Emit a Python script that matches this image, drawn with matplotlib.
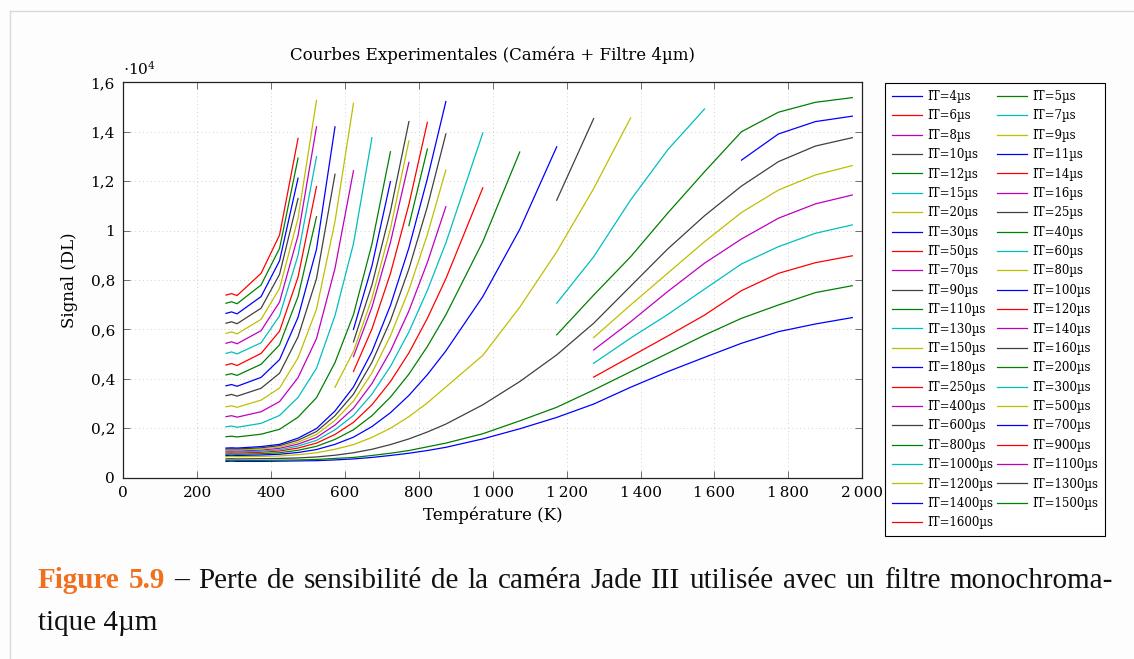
import numpy as np
import matplotlib
matplotlib.use("Agg")
import matplotlib.pyplot as plt
from matplotlib.ticker import FuncFormatter

# measurement temperatures (K)
temp_K = [278, 293, 308, 373, 423, 473, 523, 573, 623, 673, 723, 773, 823,
          873, 973, 1073, 1173, 1273, 1373, 1473, 1573, 1673, 1773, 1873, 1973]

# integration times (us), in legend order
it_us = [4, 5, 6, 7, 8, 9, 10, 11, 12, 14, 15, 16, 20, 25, 30, 40, 50, 60, 70,
         80, 90, 100, 110, 120, 130, 140, 150, 160, 180, 200, 250, 300, 400,
         500, 600, 700, 800, 900, 1000, 1100, 1200, 1300, 1400, 1500, 1600]

# signal in units of 1e4 DL, one value per temperature, None = not measured
sig_4 = [0.066, 0.067, 0.066, 0.066, 0.067, 0.068, 0.069, 0.072, 0.076, 0.082, 0.090, 0.099, 0.110,
         0.123, 0.157, 0.198, 0.244, 0.298, 0.366, 0.429, 0.487, 0.544, 0.591, 0.622, 0.648]
sig_5 = [0.070, 0.071, 0.070, 0.070, 0.071, 0.072, 0.074, 0.078, 0.082, 0.090, 0.099, 0.110, 0.125,
         0.140, 0.178, 0.230, 0.285, 0.355, 0.429, 0.503, 0.577, 0.645, 0.699, 0.749, 0.777]
sig_6 = [None] * 17 + [0.407, 0.490, 0.573, 0.658, 0.757, 0.827, 0.870, 0.898]
sig_7 = [None] * 17 + [0.463, 0.565, 0.660, 0.763, 0.865, 0.935, 0.989, 1.023]
sig_8 = [None] * 17 + [0.517, 0.631, 0.753, 0.868, 0.966, 1.050, 1.108, 1.144]
sig_9 = [None] * 17 + [0.567, 0.699, 0.827, 0.955, 1.073, 1.164, 1.225, 1.263]
sig_10 = [0.076, 0.077, 0.076, 0.077, 0.078, 0.080, 0.084, 0.091, 0.101, 0.115, 0.134, 0.157, 0.185,
          0.217, 0.295, 0.389, 0.497, 0.625, 0.775, 0.925, 1.060, 1.180, 1.279, 1.342, 1.376]
sig_11 = [None] * 21 + [1.285, 1.391, 1.441, 1.463]
sig_12 = [None] * 16 + [0.578, 0.739, 0.894, 1.070, 1.238, 1.400, 1.479, 1.519, 1.538]
sig_14 = [None] * 25
sig_15 = [None] * 16 + [0.706, 0.894, 1.124, 1.326, 1.492] + [None] * 4
sig_16 = [None] * 25
sig_20 = [0.085, 0.086, 0.085, 0.086, 0.088, 0.093, 0.101, 0.115, 0.134, 0.163, 0.200, 0.247, 0.303,
          0.367, 0.495, 0.690, 0.914, 1.170, 1.456] + [None] * 6
sig_25 = [None] * 16 + [1.123, 1.453] + [None] * 7
sig_30 = [0.090, 0.091, 0.090, 0.092, 0.095, 0.102, 0.114, 0.135, 0.164, 0.207, 0.263, 0.333, 0.417,
          0.513, 0.733, 1.005, 1.339] + [None] * 8
sig_40 = [0.095, 0.096, 0.095, 0.097, 0.101, 0.111, 0.127, 0.155, 0.194, 0.251, 0.326, 0.419, 0.531,
          0.659, 0.955, 1.318] + [None] * 9
sig_50 = [0.100, 0.101, 0.100, 0.103, 0.108, 0.120, 0.140, 0.175, 0.224, 0.295, 0.389, 0.505, 0.645,
          0.805, 1.173] + [None] * 10
sig_60 = [0.104, 0.105, 0.104, 0.107, 0.113, 0.128, 0.151, 0.194, 0.252, 0.338, 0.450, 0.590, 0.758,
          0.950, 1.395] + [None] * 10
sig_70 = [0.108, 0.109, 0.108, 0.112, 0.119, 0.136, 0.163, 0.213, 0.281, 0.381, 0.512, 0.675, 0.871,
          1.097] + [None] * 11
sig_80 = [0.112, 0.113, 0.112, 0.116, 0.124, 0.144, 0.175, 0.232, 0.310, 0.424, 0.574, 0.760, 0.984,
          1.245] + [None] * 11
sig_90 = [0.116, 0.117, 0.116, 0.121, 0.130, 0.152, 0.187, 0.251, 0.338, 0.467, 0.635, 0.845, 1.097,
          1.391] + [None] * 11
sig_100 = [0.120, 0.121, 0.120, 0.126, 0.135, 0.160, 0.199, 0.270, 0.367, 0.510, 0.697, 0.930, 1.210,
           1.522] + [None] * 11
sig_110 = [None] * 11 + [1.020, 1.330] + [None] * 12
sig_120 = [None] * 8 + [0.430, 0.602, 0.826, 1.106, 1.438] + [None] * 12
sig_130 = [None] * 25
sig_140 = [None] * 8 + [0.490, 0.690, 0.952, 1.276] + [None] * 13
sig_150 = [None] * 7 + [0.366, 0.511, 0.726, 1.007, 1.363] + [None] * 13
sig_160 = [None] * 8 + [0.550, 0.780, 1.078, 1.441] + [None] * 13
sig_180 = [None] * 8 + [0.600, 0.857, 1.198] + [None] * 14
sig_200 = [0.166, 0.168, 0.165, 0.176, 0.196, 0.245, 0.324, 0.466, 0.660, 0.946, 1.319] + [None] * 14
sig_250 = [None] * 25
sig_300 = [0.206, 0.209, 0.204, 0.220, 0.252, 0.325, 0.443, 0.656, 0.947, 1.376] + [None] * 15
sig_400 = [0.247, 0.251, 0.245, 0.267, 0.308, 0.405, 0.563, 0.847, 1.242] + [None] * 16
sig_500 = [0.287, 0.291, 0.285, 0.314, 0.363, 0.485, 0.682, 1.037, 1.515] + [None] * 16
sig_600 = [0.332, 0.337, 0.330, 0.362, 0.423, 0.570, 0.806, 1.228] + [None] * 17
sig_700 = [0.372, 0.377, 0.370, 0.406, 0.478, 0.649, 0.925, 1.420] + [None] * 17
sig_800 = [0.416, 0.421, 0.414, 0.459, 0.538, 0.733, 1.056] + [None] * 18
sig_900 = [0.456, 0.462, 0.454, 0.503, 0.593, 0.812, 1.178] + [None] * 18
sig_1000 = [0.503, 0.509, 0.501, 0.546, 0.655, 0.900, 1.299] + [None] * 18
sig_1100 = [0.544, 0.550, 0.542, 0.595, 0.711, 0.980, 1.420] + [None] * 18
sig_1200 = [0.584, 0.590, 0.582, 0.641, 0.766, 1.050, 1.527] + [None] * 18
sig_1300 = [0.625, 0.631, 0.623, 0.686, 0.823, 1.130] + [None] * 19
sig_1400 = [0.665, 0.671, 0.663, 0.733, 0.878, 1.212] + [None] * 19
sig_1500 = [0.706, 0.712, 0.704, 0.780, 0.928, 1.293] + [None] * 19
sig_1600 = [0.739, 0.745, 0.737, 0.827, 0.982, 1.373] + [None] * 19

signals = [sig_4, sig_5, sig_6, sig_7, sig_8, sig_9, sig_10, sig_11, sig_12, sig_14,
           sig_15, sig_16, sig_20, sig_25, sig_30, sig_40, sig_50, sig_60, sig_70,
           sig_80, sig_90, sig_100, sig_110, sig_120, sig_130, sig_140, sig_150,
           sig_160, sig_180, sig_200, sig_250, sig_300, sig_400, sig_500, sig_600,
           sig_700, sig_800, sig_900, sig_1000, sig_1100, sig_1200, sig_1300,
           sig_1400, sig_1500, sig_1600]

caption_line1 = 'Figure 5.9 – Perte de sensibilité de la caméra Jade III utilisée avec un filtre monochroma-'
caption_line2 = 'tique 4µm'

# old matlab colour order b g r c m y k
colors = ['#0000ff', '#008000', '#ff0000', '#00bfbf', '#bf00bf', '#bfbf00', '#404040']

plt.rcParams['font.family'] = ['DejaVu Serif']
plt.rcParams['mathtext.fontset'] = 'dejavuserif'

W, H = 1134, 659
fig = plt.figure(figsize=(W / 100, H / 100), dpi=100, facecolor='#fdfdfd')
ax = fig.add_axes([0.1087, 0.2751, 0.6517, 0.6])
ax.set_facecolor('white')

handles = []
for i, (it, s) in enumerate(zip(it_us, signals)):
    y = np.array(s, dtype=float) * 1e4
    line, = ax.plot(temp_K, y, color=colors[i % 7], lw=0.9, label=f'IT={it}µs')
    handles.append(line)

ax.set_xlim(0, 2000)
ax.set_ylim(0, 16000)
ax.set_xticks(range(0, 2001, 200))
ax.set_yticks(range(0, 16001, 2000))


def fmt_x(v, pos):
    v = int(round(v))
    return f'{v // 1000}\u2009{v % 1000:03d}' if v >= 1000 else str(v)


def fmt_y(v, pos):
    return ('%g' % (v / 1e4)).replace('.', ',')


ax.xaxis.set_major_formatter(FuncFormatter(fmt_x))
ax.yaxis.set_major_formatter(FuncFormatter(fmt_y))
ax.tick_params(direction='in', top=True, right=True, length=5, width=0.7,
               color='#707070', labelsize=11, pad=6)
ax.grid(True, color='#cfcfcf', linestyle=(0, (1, 3)), linewidth=0.7)
for sp in ax.spines.values():
    sp.set_linewidth(0.9)
    sp.set_color('#222222')

ax.set_title('Courbes Experimentales (Caméra + Filtre 4µm)', fontsize=12, pad=16)
ax.set_xlabel('Température (K)', fontsize=12, labelpad=5)
ax.set_ylabel('Signal (DL)', fontsize=12, labelpad=9)
ax.text(0.0, 1.012, r'$\cdot10^{4}$', transform=ax.transAxes, ha='left', va='bottom', fontsize=11)

# pgfplots fills the legend row by row
order = handles[0::2] + handles[1::2]
leg = fig.legend(handles=order, loc='upper left', bbox_to_anchor=(885 / W, 1 - 83 / H),
                 ncol=2, fontsize=8.5, frameon=True, fancybox=False, framealpha=1,
                 edgecolor='black', handlelength=2.55, handletextpad=0.4,
                 columnspacing=0.35, labelspacing=0.54, borderpad=0.6, borderaxespad=0)
leg.get_frame().set_linewidth(0.8)

# page frame lines
fig.add_artist(plt.Line2D([10 / W, 1], [1 - 11 / H, 1 - 11 / H], color='#d9d9d9', lw=1))
fig.add_artist(plt.Line2D([10 / W, 10 / W], [0, 1 - 11 / H], color='#d9d9d9', lw=1))

# caption, first line justified between x=38 and x=1113 like LaTeX
fig.canvas.draw()
renderer = fig.canvas.get_renderer()
cap_size = 21
words = caption_line1.split(' ')
texts = []
for k, wd in enumerate(words):
    bold = k < 2
    t = fig.text(0, 1 - 588 / H, wd, fontsize=cap_size, family='Liberation Serif', va='baseline',
                 color='#f07020' if bold else '#111111', fontweight='bold' if bold else 'normal')
    texts.append(t)
widths = [t.get_window_extent(renderer).width for t in texts]
gap = ((1113 - 38) - sum(widths)) / (len(words) - 1)
xpos = 38
for t, wdt in zip(texts, widths):
    t.set_x(xpos / W)
    xpos += wdt + gap
fig.text(38 / W, 1 - 630 / H, caption_line2, fontsize=cap_size, family='Liberation Serif',
         va='baseline', color='#111111')

fig.savefig('out.png', dpi=100, facecolor=fig.get_facecolor())
